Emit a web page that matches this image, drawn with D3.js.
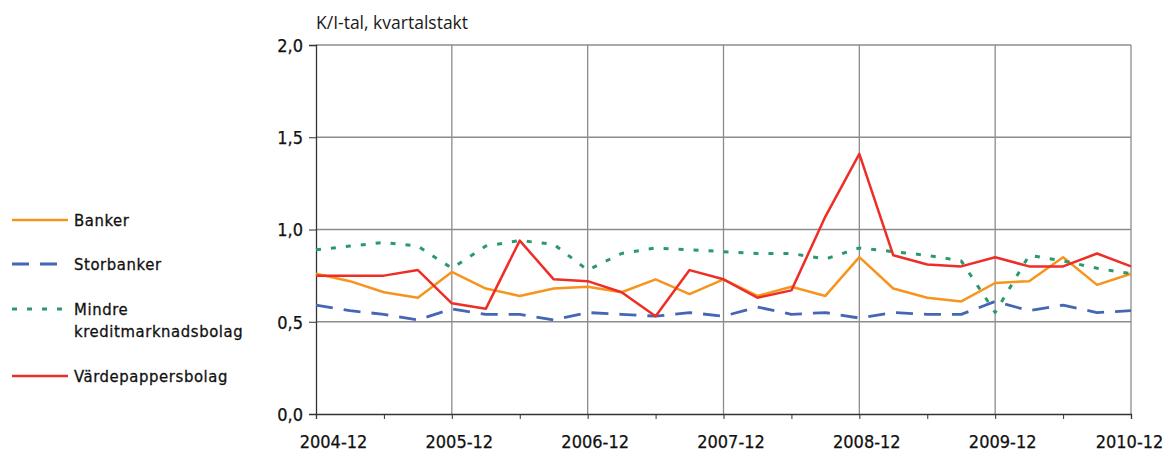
<!DOCTYPE html>
<html>
<head>
<meta charset="utf-8">
<script src="https://cdn.jsdelivr.net/npm/d3@7"></script>
<style>
  body { margin: 0; background: #fff; }
  svg { display: block; }
  .tick-label { font-family: "DejaVu Sans Condensed", "DejaVu Sans", sans-serif; font-size: 18px; fill: #111; stroke: #111; stroke-width: 0.25px; }
  .legend-label { font-family: "DejaVu Sans Condensed", "DejaVu Sans", sans-serif; font-size: 16.5px; fill: #111; stroke: #111; stroke-width: 0.3px; letter-spacing: 0.6px; }
  .title { font-family: "Open Sans", "Noto Sans", sans-serif; font-size: 17.5px; fill: #1a1a1a; }
</style>
</head>
<body>
<svg id="chart" width="1168" height="452"></svg>
<script>
'use strict';

// quarters 2004-12 .. 2010-12
var quarters = ['2004-12','2005-03','2005-06','2005-09','2005-12','2006-03','2006-06','2006-09','2006-12',
    '2007-03','2007-06','2007-09','2007-12','2008-03','2008-06','2008-09','2008-12',
    '2009-03','2009-06','2009-09','2009-12','2010-03','2010-06','2010-09','2010-12']

var yearLabels = ['2004-12','2005-12','2006-12','2007-12','2008-12','2009-12','2010-12']
var yTicks = [0, 0.5, 1.0, 1.5, 2.0]

var banker = [0.76,0.72,0.66,0.63,0.77,0.68,0.64,0.68,0.69,
    0.66,0.73,0.65,0.73,0.64,0.69,0.64,0.85,
    0.68,0.63,0.61,0.71,0.72,0.85,0.70,0.76]

var storbanker = [0.59,0.56,0.54,0.51,0.57,0.54,0.54,0.51,0.55,
    0.54,0.53,0.55,0.53,0.58,0.54,0.55,0.52,
    0.55,0.54,0.54,0.61,0.56,0.59,0.55,0.56]

var mindre = [0.89,0.91,0.93,0.91,0.79,0.91,0.94,0.92,0.78,
    0.87,0.90,0.89,0.88,0.87,0.87,0.84,0.90,
    0.88,0.86,0.83,0.55,0.86,0.83,0.79,0.76]

var vardepapper = [0.75,0.75,0.75,0.78,0.60,0.57,0.94,0.73,0.72,
    0.66,0.53,0.78,0.73,0.63,0.67,1.07,1.41,
    0.86,0.81,0.80,0.85,0.80,0.80,0.87,0.80]

var series = [
    { name: ['Banker'], values: banker, color: '#F7941D', dash: null, width: 2.5 },
    { name: ['Storbanker'], values: storbanker, color: '#4466B5', dash: '17,11', width: 2.8 },
    { name: ['Mindre', 'kreditmarknadsbolag'], values: mindre, color: '#2A9A6C', dash: '5,10', width: 3 },
    { name: ['Värdepappersbolag'], values: vardepapper, color: '#EE2E26', dash: null, width: 2.5 }
]

var chart = (function() {
    var svg = d3.select('#chart')
    var plotLeft = 316, plotRight = 1131, plotTop = 45, plotBottom = 414

    var x = d3.scalePoint().domain(quarters).range([plotLeft, plotRight])
    var y = d3.scaleLinear().domain([0, 2]).range([plotBottom, plotTop])

    // grid
    var grid = svg.append('g')
    grid.selectAll('line.h')
        .data(yTicks.filter(function(d) { return d > 0 }))
        .enter().append('line')
        .attr('x1', plotLeft).attr('x2', plotRight)
        .attr('y1', function(d) { return y(d) }).attr('y2', function(d) { return y(d) })
        .attr('stroke', '#8c8c8c').attr('stroke-width', 1.3)

    grid.selectAll('line.v')
        .data(yearLabels.slice(1))
        .enter().append('line')
        .attr('x1', function(d) { return x(d) }).attr('x2', function(d) { return x(d) })
        .attr('y1', plotTop).attr('y2', plotBottom)
        .attr('stroke', '#8c8c8c').attr('stroke-width', 1.3)

    // axes
    var yAxis = d3.axisLeft(y).tickValues(yTicks).tickSize(7)
        .tickFormat(function(d) { return d3.format('.1f')(d).replace('.', ',') })
    var gy = svg.append('g').attr('transform', 'translate(' + plotLeft + ',0)').call(yAxis)
    gy.select('.domain').attr('stroke', '#333').attr('stroke-width', 1.3)
    gy.selectAll('.tick line').attr('stroke', '#333')
    gy.selectAll('.tick text').attr('class', 'tick-label').attr('x', -13).attr('dy', '0.35em')

    var halfYears = quarters.filter(function(d, i) { return i % 2 === 0 })
    var xAxis = d3.axisBottom(x).tickValues(halfYears).tickSize(5)
        .tickFormat(function(d) { return yearLabels.indexOf(d) >= 0 ? d : '' })
    var gx = svg.append('g').attr('transform', 'translate(0,' + plotBottom + ')').call(xAxis)
    gx.select('.domain').attr('stroke', '#333').attr('stroke-width', 1.3)
    gx.selectAll('.tick line').attr('stroke', '#333')
    // labels sit a little right of their gridline; the end ones are kept inside the picture
    var lastLabel = yearLabels[yearLabels.length - 1]
    gx.selectAll('.tick text').attr('class', 'tick-label')
        .attr('y', 34).attr('dy', 0)
        .attr('x', function(d) { return d === yearLabels[0] ? 17 : d === lastLabel ? -2 : 7 })

    // lines
    var line = d3.line()
        .x(function(d, i) { return x(quarters[i]) })
        .y(function(d) { return y(d) })

    svg.append('g').selectAll('path')
        .data(series)
        .enter().append('path')
        .attr('d', function(d) { return line(d.values) })
        .attr('fill', 'none')
        .attr('stroke', function(d) { return d.color })
        .attr('stroke-width', function(d) { return d.width })
        .attr('stroke-dasharray', function(d) { return d.dash })
        .attr('stroke-linejoin', 'round')

    // title
    svg.append('text').attr('class', 'title').attr('x', 316).attr('y', 29).text('K/I-tal, kvartalstakt')

    // legend
    var legendY = [220, 264, 309, 376]
    var legend = svg.append('g').selectAll('g')
        .data(series)
        .enter().append('g')
        .attr('transform', function(d, i) { return 'translate(0,' + legendY[i] + ')' })

    legend.append('line')
        .attr('x1', 12).attr('x2', 68).attr('y1', 0).attr('y2', 0)
        .attr('stroke', function(d) { return d.color })
        .attr('stroke-width', function(d) { return d.width })
        .attr('stroke-dasharray', function(d) { return d.dash })

    legend.each(function(d) {
        var t = d3.select(this).append('text').attr('class', 'legend-label').attr('x', 74).attr('y', 6)
        d.name.forEach(function(n, j) {
            t.append('tspan').attr('x', 74).attr('dy', j === 0 ? 0 : 22).text(n)
        })
    })
}())
</script>
</body>
</html>
